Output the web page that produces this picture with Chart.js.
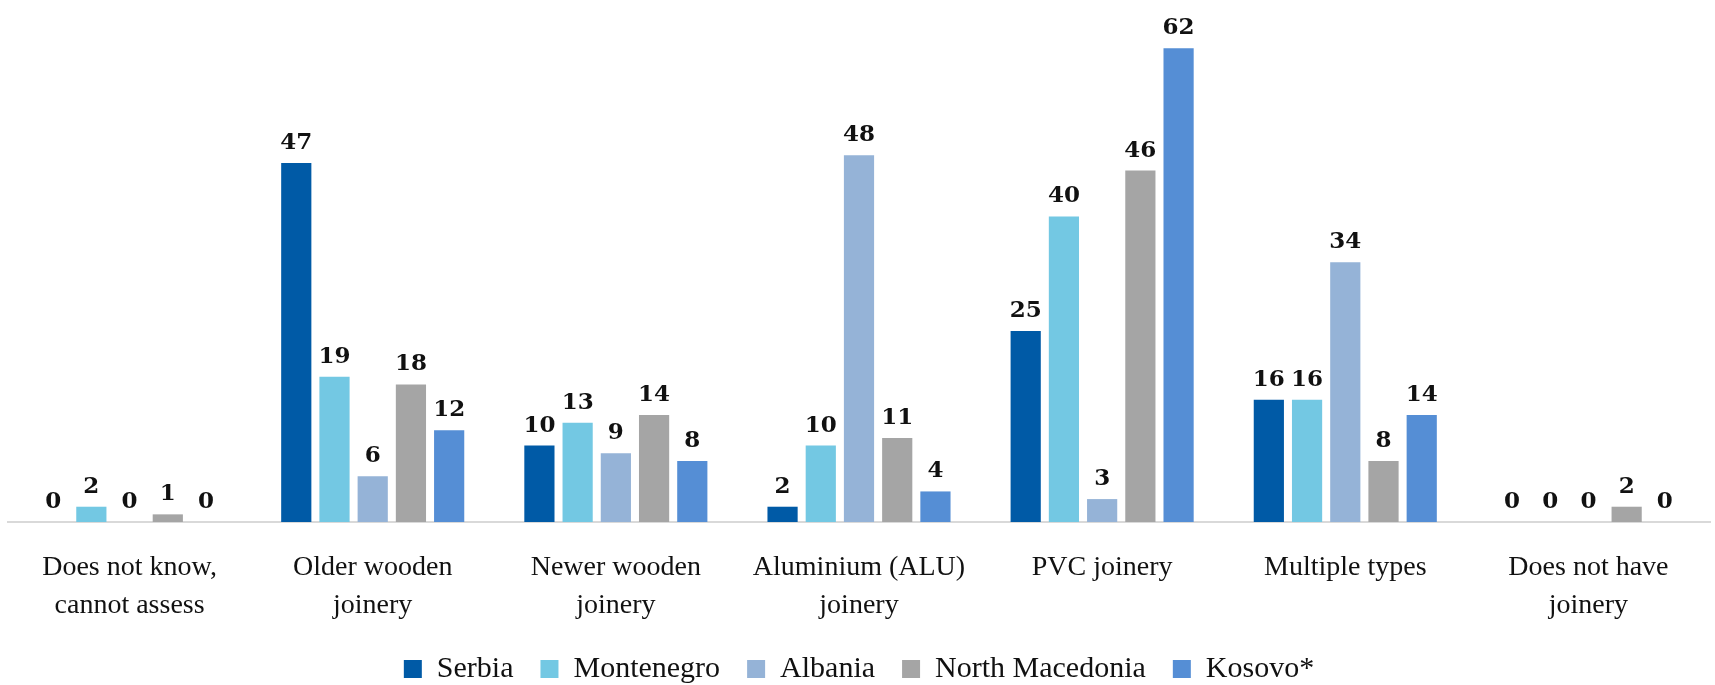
<!DOCTYPE html>
<html>
<head>
<meta charset="utf-8">
<script src="https://cdn.jsdelivr.net/npm/chart.js@4/dist/chart.umd.min.js"></script>
<style>
  html, body { margin: 0; padding: 0; background: #fff; }
  #wrap { width: 1715px; height: 685px; }
</style>
</head>
<body>
<div id="wrap"><canvas id="chart"></canvas></div>
<script>
const categories = [
    ['Does not know,', 'cannot assess'],
    ['Older wooden', 'joinery'],
    ['Newer wooden', 'joinery'],
    ['Aluminium (ALU)', 'joinery'],
    'PVC joinery',
    'Multiple types',
    ['Does not have', 'joinery']
];
const serbia = [0, 47, 10, 2, 25, 16, 0];
const montenegro = [2, 19, 13, 10, 40, 16, 0];
const albania = [0, 6, 9, 48, 3, 34, 0];
const northMacedonia = [1, 18, 14, 11, 46, 8, 2];
const kosovo = [0, 12, 8, 4, 62, 14, 0];

const serif = "'Liberation Serif', 'DejaVu Serif', serif";

// draws the value above each bar
const valueLabels = {
    id: 'valueLabels',
    afterDatasetsDraw(chart) {
        const ctx = chart.ctx;
        ctx.save();
        ctx.font = "bold 23px 'DejaVu Serif', serif";
        ctx.fillStyle = '#111';
        ctx.textAlign = 'center';
        ctx.textBaseline = 'alphabetic';
        chart.data.datasets.forEach((ds, i) => {
            const meta = chart.getDatasetMeta(i);
            meta.data.forEach((bar, j) => {
                ctx.fillText(String(ds.data[j]), bar.x, bar.y - 14);
            });
        });
        ctx.restore();
    }
};

const ctx = document.getElementById('chart').getContext('2d');
new Chart(ctx, {
    type: 'bar',
    data: {
        labels: categories,
        datasets: [
            { label: 'Serbia', data: serbia, backgroundColor: '#005AA6' },
            { label: 'Montenegro', data: montenegro, backgroundColor: '#73C8E3' },
            { label: 'Albania', data: albania, backgroundColor: '#95B3D7' },
            { label: 'North Macedonia', data: northMacedonia, backgroundColor: '#A5A5A5' },
            { label: 'Kosovo*', data: kosovo, backgroundColor: '#558ED5' }
        ]
    },
    options: {
        responsive: true,
        maintainAspectRatio: false,
        animation: false,
        layout: { padding: { top: 33, left: 8, right: 5, bottom: -9 } },
        datasets: {
            bar: { categoryPercentage: 0.786, barPercentage: 0.79 }
        },
        scales: {
            x: {
                grid: { display: false },
                border: { color: '#d9d9d9', width: 2 },
                ticks: {
                    color: '#111',
                    font: { family: serif, size: 28, lineHeight: 1.36 },
                    padding: 19,
                    maxRotation: 0,
                    autoSkip: false
                },
                afterFit(scale) {
                    scale.height = 105;
                }
            },
            y: {
                display: false,
                min: 0,
                max: 64
            }
        },
        plugins: {
            legend: {
                position: 'bottom',
                labels: {
                    color: '#111',
                    font: { family: serif, size: 30 },
                    boxWidth: 18,
                    boxHeight: 18,
                    padding: 27
                }
            },
            tooltip: { enabled: false }
        }
    },
    plugins: [valueLabels]
});
</script>
</body>
</html>
